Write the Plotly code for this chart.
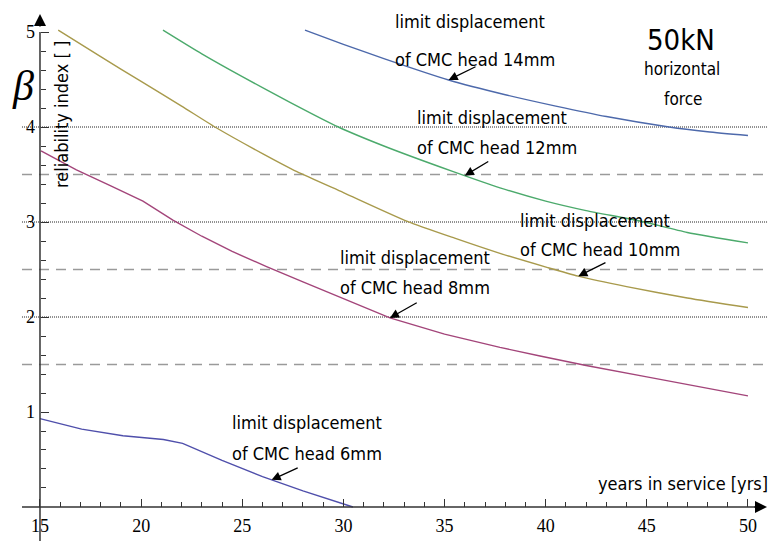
import plotly.graph_objects as go

# ---------------- data ----------------
years_6mm = [15.0, 17.06, 19.1, 21.1, 22.05, 24.0, 26.0, 28.0, 30.47]
beta_6mm = [0.93, 0.82, 0.75, 0.71, 0.67, 0.49, 0.32, 0.17, 0.0]

years_8mm = [15.05, 16.8, 18.5, 20.09, 21.57, 23.0, 24.5, 26.2, 28.0, 30.0, 32.3, 35.0,
             37.74, 39.72, 42.0, 45.0, 47.5, 50.0]
beta_8mm = [3.75, 3.55, 3.38, 3.22, 3.02, 2.85, 2.69, 2.53, 2.37, 2.19, 1.99, 1.82,
            1.68, 1.59, 1.49, 1.37, 1.27, 1.17]

years_10mm = [15.9, 18.0, 20.0, 22.0, 23.65, 26.0, 27.7, 30.0, 33.13, 35.5, 37.74, 40.1,
              41.61, 44.0, 47.0, 50.0]
beta_10mm = [5.02, 4.74, 4.48, 4.22, 4.0, 3.72, 3.53, 3.31, 3.01, 2.83, 2.67, 2.52,
             2.43, 2.32, 2.2, 2.10]

years_12mm = [21.08, 23.0, 25.0, 27.36, 29.75, 32.0, 35.43, 37.74, 40.0, 42.0, 44.66, 47.0, 50.0]
beta_12mm = [5.02, 4.77, 4.53, 4.26, 4.0, 3.8, 3.53, 3.36, 3.22, 3.12, 3.01, 2.89, 2.78]

years_14mm = [28.1, 30.0, 32.0, 35.2, 38.0, 40.5, 43.0, 46.1, 48.0, 50.0]
beta_14mm = [5.02, 4.87, 4.72, 4.495, 4.34, 4.22, 4.11, 4.0, 3.95, 3.91]

series_names = ["6mm", "8mm", "10mm", "12mm", "14mm"]
series_years = [years_6mm, years_8mm, years_10mm, years_12mm, years_14mm]
series_beta = [beta_6mm, beta_8mm, beta_10mm, beta_12mm, beta_14mm]

dotted_levels = [2, 3, 4]
dashed_levels = [1.5, 2.5, 3.5]

x_tick_vals = [15, 20, 25, 30, 35, 40, 45, 50]
y_tick_vals = [1, 2, 3, 4, 5]
x_minor_vals = [v for v in range(16, 50) if v % 5 != 0]
y_minor_vals = [round(0.2 * k, 1) for k in range(1, 25) if k % 5 != 0]

label_line1 = "limit displacement"
label_line2 = ["of CMC head 6mm", "of CMC head 8mm", "of CMC head 10mm",
               "of CMC head 12mm", "of CMC head 14mm"]
# arrow heads sit on the curves at these years
arrow_years = [26.45, 32.3, 41.61, 36.0, 35.2]

# ---------------- styles / layout ----------------
W, H = 768, 541
colors = ["#4f4fab", "#a3457a", "#a89a4c", "#4caa6c", "#4d69ab"]
shapes_line = ["linear", "linear", "spline", "spline", "spline"]
NARROW = "Liberation Sans Narrow, DejaVu Sans Condensed, sans-serif"
SERIF = "Liberation Serif"

X_RANGE = [13.023, 50.99]
Y_RANGE = [-0.358, 5.337]

def px_x(p):
    return p / W

def px_y(p):
    return 1 - p / H

def interp(xs, ys, x):
    for i in range(len(xs) - 1):
        if xs[i] <= x <= xs[i + 1]:
            t = (x - xs[i]) / (xs[i + 1] - xs[i])
            return ys[i] + t * (ys[i + 1] - ys[i])
    return ys[-1]

fig = go.Figure()
for name, xs, ys, c, sh in zip(series_names, series_years, series_beta, colors, shapes_line):
    fig.add_trace(go.Scatter(x=xs, y=ys, mode="lines", name=name,
                             line=dict(color=c, width=1.4, shape=sh, smoothing=0.6),
                             showlegend=False, hoverinfo="skip"))

shapes = []
for lv in dotted_levels:
    shapes.append(dict(type="line", xref="x", yref="y", x0=14.11, x1=X_RANGE[1], y0=lv, y1=lv,
                       line=dict(color="#222222", width=1, dash="1px,1px"), layer="below"))
for lv in dashed_levels:
    shapes.append(dict(type="line", xref="x", yref="y", x0=14.11, x1=X_RANGE[1], y0=lv, y1=lv,
                       line=dict(color="#9a9a9a", width=1.6, dash="10px,7px"), layer="below"))
# axis lines
shapes.append(dict(type="line", xref="x", yref="y", x0=14.11, x1=50.6, y0=0, y1=0,
                   line=dict(color="#333333", width=1.5)))
shapes.append(dict(type="line", xref="x", yref="y", x0=15, x1=15, y0=Y_RANGE[0], y1=5.0,
                   line=dict(color="#333333", width=1.5)))

annotations = []
# axis arrows
annotations.append(dict(x=50.94, y=0, xref="x", yref="y", text="", showarrow=True,
                        ax=-14, ay=0, arrowhead=2, arrowsize=1.6, arrowwidth=1.5,
                        arrowcolor="black"))
annotations.append(dict(x=15, y=5.19, xref="x", yref="y", text="", showarrow=True,
                        ax=0, ay=14, arrowhead=2, arrowsize=1.6, arrowwidth=1.5,
                        arrowcolor="black"))

LABEL_SIZE = 18
# curve labels: (left px, line1 center px, line2 center px, arrow tail offset)
label_pos = [
    (230, 422, 453, (27.6, -12.6)),
    (338, 257, 287, (28.3, -16)),
    (518, 220, 249, (28.7, -14.3)),
    (415, 118, 147, (25, -15)),
    (393, 22, 59, (28.4, -14)),
]
for i, (lx, y1, y2, (ax, ay)) in enumerate(label_pos):
    for txt, yy in ((label_line1, y1), (label_line2[i], y2)):
        annotations.append(dict(x=px_x(lx), y=px_y(yy), xref="paper", yref="paper",
                                text=txt, showarrow=False, xanchor="left", yanchor="middle",
                                font=dict(family=NARROW, size=LABEL_SIZE, color="black")))
    ax_year = arrow_years[i]
    annotations.append(dict(x=ax_year, y=interp(series_years[i], series_beta[i], ax_year),
                            xref="x", yref="y", text="", showarrow=True, ax=ax, ay=ay,
                            arrowhead=2, arrowsize=1.4, arrowwidth=1.3, arrowcolor="black"))

annotations += [
    dict(x=px_x(681), y=px_y(40), xref="paper", yref="paper", text="50kN", showarrow=False,
         xanchor="center", yanchor="middle", font=dict(family=NARROW, size=29, color="black")),
    dict(x=px_x(682), y=px_y(69), xref="paper", yref="paper", text="horizontal", showarrow=False,
         xanchor="center", yanchor="middle", font=dict(family=NARROW, size=17, color="black")),
    dict(x=px_x(683), y=px_y(99), xref="paper", yref="paper", text="force", showarrow=False,
         xanchor="center", yanchor="middle", font=dict(family=NARROW, size=17, color="black")),
    dict(x=px_x(683), y=px_y(483), xref="paper", yref="paper", text="years in service [yrs]",
         showarrow=False, xanchor="center", yanchor="middle",
         font=dict(family=NARROW, size=18, color="black")),
    dict(x=px_x(61.5), y=px_y(114.5), xref="paper", yref="paper", text="reliability index [ ]",
         showarrow=False, textangle=-90, xanchor="center", yanchor="middle",
         font=dict(family=NARROW, size=18, color="black")),
    dict(x=px_x(23), y=px_y(86), xref="paper", yref="paper", text="<i>β</i>",
         showarrow=False, xanchor="center", yanchor="middle",
         font=dict(family=SERIF, size=42, color="black")),
]

fig.update_layout(
    width=W, height=H, margin=dict(l=0, r=0, t=0, b=0, pad=0),
    paper_bgcolor="white", plot_bgcolor="white",
    shapes=shapes, annotations=annotations,
    xaxis=dict(range=X_RANGE, domain=[0, 1], anchor="free", position=(H - 507) / H,
               showgrid=False, zeroline=False, showline=False,
               tickmode="array", tickvals=x_tick_vals, ticktext=[str(v) for v in x_tick_vals],
               ticks="inside", ticklen=8, tickwidth=1, tickcolor="#333333",
               ticklabelstandoff=6,
               minor=dict(tickmode="array", tickvals=x_minor_vals, ticks="inside", ticklen=5,
                          tickwidth=1, tickcolor="#333333", showgrid=False),
               tickfont=dict(family=SERIF, size=18, color="black"), automargin=False),
    yaxis=dict(range=Y_RANGE, domain=[0, 1], anchor="free", position=40 / W,
               showgrid=False, zeroline=False, showline=False,
               tickmode="array", tickvals=y_tick_vals, ticktext=[str(v) for v in y_tick_vals],
               ticks="inside", ticklen=8, tickwidth=1, tickcolor="#333333",
               ticklabelstandoff=5,
               minor=dict(tickmode="array", tickvals=y_minor_vals, ticks="inside", ticklen=5,
                          tickwidth=1, tickcolor="#333333", showgrid=False),
               tickfont=dict(family=SERIF, size=18, color="black"), automargin=False),
)

fig.write_html("out.html")
